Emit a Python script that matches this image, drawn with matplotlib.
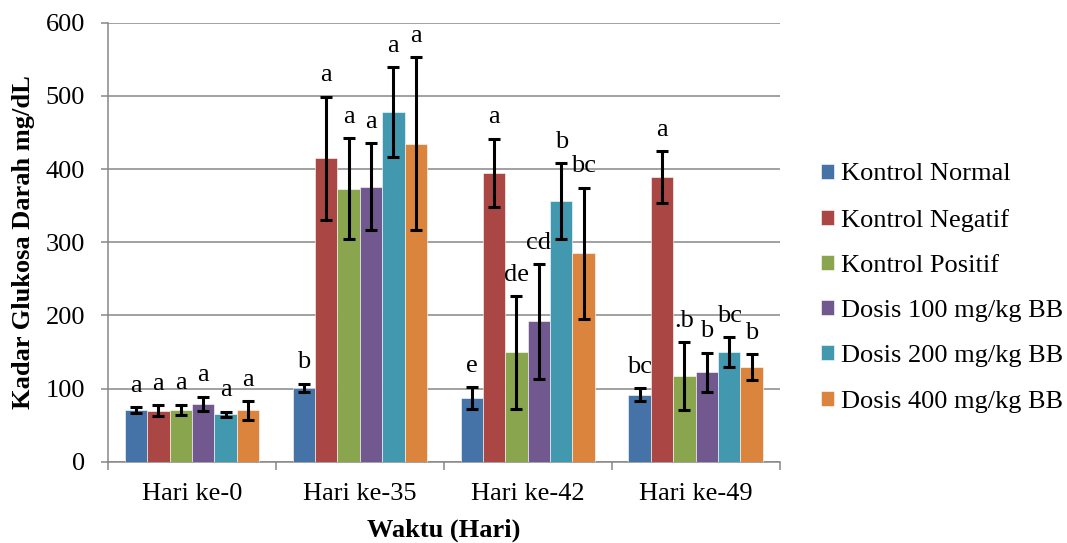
import matplotlib
matplotlib.use("Agg")
import matplotlib.pyplot as plt
import numpy as np

categories = ["Hari ke-0", "Hari ke-35", "Hari ke-42", "Hari ke-49"]
series_names = ["Kontrol Normal", "Kontrol Negatif", "Kontrol Positif",
                "Dosis 100 mg/kg BB", "Dosis 200 mg/kg BB", "Dosis 400 mg/kg BB"]

kontrol_normal = [71, 100.7, 87, 91.6]
kontrol_negatif = [69.7, 415, 394.5, 389]
kontrol_positif = [71, 373, 149.4, 116.6]
dosis_100 = [79.3, 376, 191.8, 122]
dosis_200 = [65, 478, 355.8, 149.4]
dosis_400 = [70, 434.6, 285.2, 129.4]

err_normal = [4, 6, 15, 8.5]
err_negatif = [7.5, 84, 47, 35]
err_positif = [7, 69, 77, 46.5]
err_100 = [9.6, 59, 78.6, 27]
err_200 = [3.5, 61, 52, 20.5]
err_400 = [13, 118, 89.5, 18]

letters_normal = ["a", "b", "e", "bc"]
letters_negatif = ["a", "a", "a", "a"]
letters_positif = ["a", "a", "de", ".b"]
letters_100 = ["a", "a", "cd", "b"]
letters_200 = ["a", "a", "b", "bc"]
letters_400 = ["a", "a", "bc", "b"]

yticks = [0, 100, 200, 300, 400, 500, 600]

values = [kontrol_normal, kontrol_negatif, kontrol_positif, dosis_100, dosis_200, dosis_400]
errors = [err_normal, err_negatif, err_positif, err_100, err_200, err_400]
letters = [letters_normal, letters_negatif, letters_positif, letters_100, letters_200, letters_400]
colors = ["#4572A7", "#AA4643", "#89A54E", "#71588F", "#4198AF", "#DB843D"]

plt.rcParams["font.family"] = ["Liberation Serif", "DejaVu Serif"]
FS = 19
GRID = "#878787"

fig = plt.figure(figsize=(10.67, 5.43), dpi=100)
ax = fig.add_axes([108 / 1067, 1 - 461.7 / 543, 671.5 / 1067, 439 / 543])

n = len(values)
w = 1 / 7.5
x = np.arange(len(categories))
for i, (vals, errs, labs, c, name) in enumerate(zip(values, errors, letters, colors, series_names)):
    xs = x + (i - (n - 1) / 2) * w
    ax.bar(xs, vals, width=w, color=c, edgecolor="white", linewidth=0.4, label=name, zorder=3)
    ax.errorbar(xs, vals, yerr=errs, fmt="none", ecolor="black", elinewidth=2.2,
                capsize=4.3, capthick=2.2, zorder=4)
    for xi, v, e, t in zip(xs, vals, errs, labs):
        ax.annotate(t, (xi, v + e), xytext=(0, 11), textcoords="offset points",
                    ha="center", va="baseline", fontsize=FS, zorder=5)

ax.set_xlim(-0.5, len(categories) - 0.5)
ax.set_ylim(0, 600)
ax.set_yticks(yticks)
ax.set_yticklabels([str(t) for t in yticks], fontsize=FS)
ax.yaxis.grid(True, color=GRID, linewidth=1.1, zorder=0)
ax.set_axisbelow(True)

ax.set_xticks(x)
ax.set_xticklabels(categories, fontsize=FS)
ax.set_xticks(np.arange(len(categories) + 1) - 0.5, minor=True)
ax.tick_params(axis="x", which="major", length=0, pad=15)
ax.tick_params(axis="x", which="minor", length=5.4, width=1.1, color=GRID, direction="out")
ax.tick_params(axis="y", length=5.4, width=1.1, color=GRID, pad=11, direction="out")

for s in ["top", "right"]:
    ax.spines[s].set_visible(False)
for s in ["left", "bottom"]:
    ax.spines[s].set_color(GRID)
    ax.spines[s].set_linewidth(1.1)

ax.set_ylabel("Kadar Glukosa Darah mg/dL", fontsize=FS, fontweight="bold")
ax.yaxis.set_label_coords(-0.108, 0.5)
ax.set_xlabel("Waktu (Hari)", fontsize=FS, fontweight="bold", labelpad=10)

leg = ax.legend(loc="center left", bbox_to_anchor=(821 / 1067, 1 - 288 / 543),
                bbox_transform=fig.transFigure, frameon=False, fontsize=FS,
                handlelength=0.5, handleheight=0.5, handletextpad=0.25,
                labelspacing=0.88, borderpad=0, borderaxespad=0)

fig.savefig("out.png", dpi=100)
